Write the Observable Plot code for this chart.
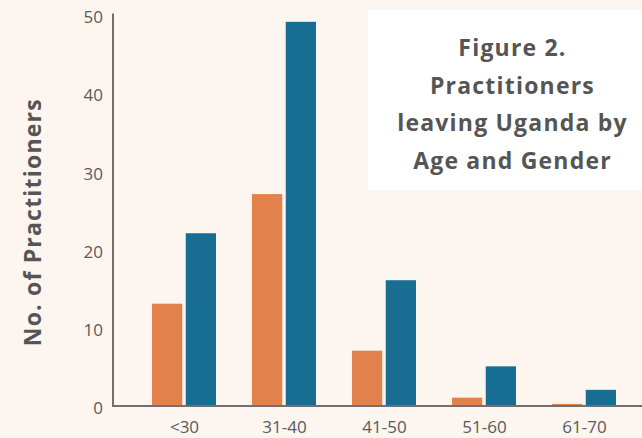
<!DOCTYPE html>
<html>
<head>
<meta charset="utf-8">
<script src="https://cdn.jsdelivr.net/npm/d3@7"></script>
<script src="https://cdn.jsdelivr.net/npm/@observablehq/plot@0.6"></script>
<style>
  html, body { margin: 0; padding: 0; background: #FDF5F0; }
  #wrap { position: relative; width: 642px; height: 438px; overflow: hidden; background: #FDF5F0; }
  #title {
    position: absolute; left: 368px; top: 10px; width: 292px; height: 180px;
    background: #FFFFFF; box-sizing: border-box; padding-top: 19px;
    font-family: "Open Sans", sans-serif; font-weight: 700; font-size: 23px;
    letter-spacing: 1.2px;
    line-height: 37.5px; color: #555555; text-align: center;
  }
  #title div { margin-left: -3px; }
</style>
</head>
<body>
<div id="wrap">
  <div id="chart"></div>
  <div id="title"></div>
</div>
<script>
const ages = ["<30", "31-40", "41-50", "51-60", "61-70"];
const seriesA = [13, 27, 7, 1, 0.2];   // orange
const seriesB = [22, 49, 16, 5, 2];    // blue
const yTicks = [0, 10, 20, 30, 40, 50];
const yLabel = "No. of Practitioners";
const titleLines = ["Figure 2.", "Practitioners", "leaving Uganda by", "Age and Gender"];

const dataA = ages.map((age, i) => ({age, value: seriesA[i]}));
const dataB = ages.map((age, i) => ({age, value: seriesB[i]}));

const bw = 64.5;           // band width in px
const half = bw / 2 + 1.5; // inset for each half, leaves a 3px gap

const chart = Plot.plot({
  width: 642,
  height: 438,
  marginTop: 14,
  marginBottom: 32.5,
  marginLeft: 112.5,
  marginRight: 0,
  style: {background: "transparent", fontFamily: "'Open Sans', sans-serif", color: "#5a5a5a"},
  x: {domain: ages, range: [112.5, 655.3], paddingInner: 0.358, paddingOuter: 0.378, label: null},
  y: {domain: [0, 50], label: null},
  marks: [
    Plot.barY(dataA, {x: "age", y: "value", fill: "#E2814B", insetRight: half}),
    Plot.barY(dataB, {x: "age", y: "value", fill: "#186E92", insetLeft: half}),
    Plot.ruleY([0], {stroke: "#707070", strokeWidth: 2}),
    Plot.frame({anchor: "left", stroke: "#707070", strokeWidth: 2}),
    Plot.axisY({ticks: yTicks, tickSize: 0, tickPadding: 10, dy: 3, fontSize: 17, fill: "#5a5a5a", label: null}),
    Plot.axisX({tickSize: 0, tickPadding: 15, fontSize: 17, fill: "#5a5a5a", label: null}),
    Plot.text([yLabel], {frameAnchor: "left", textAnchor: "middle", rotate: -90, dx: -79, dy: 12, fontSize: 23, fontWeight: "bold", fill: "#555555"})
  ]
});
chart.querySelectorAll("text").forEach(el => {
  if (el.textContent === yLabel) el.style.letterSpacing = "1.2px";
});
document.getElementById("chart").appendChild(chart);
const t = document.getElementById("title");
titleLines.forEach(s => { const d = document.createElement("div"); d.textContent = s; t.appendChild(d); });
</script>
</body>
</html>
